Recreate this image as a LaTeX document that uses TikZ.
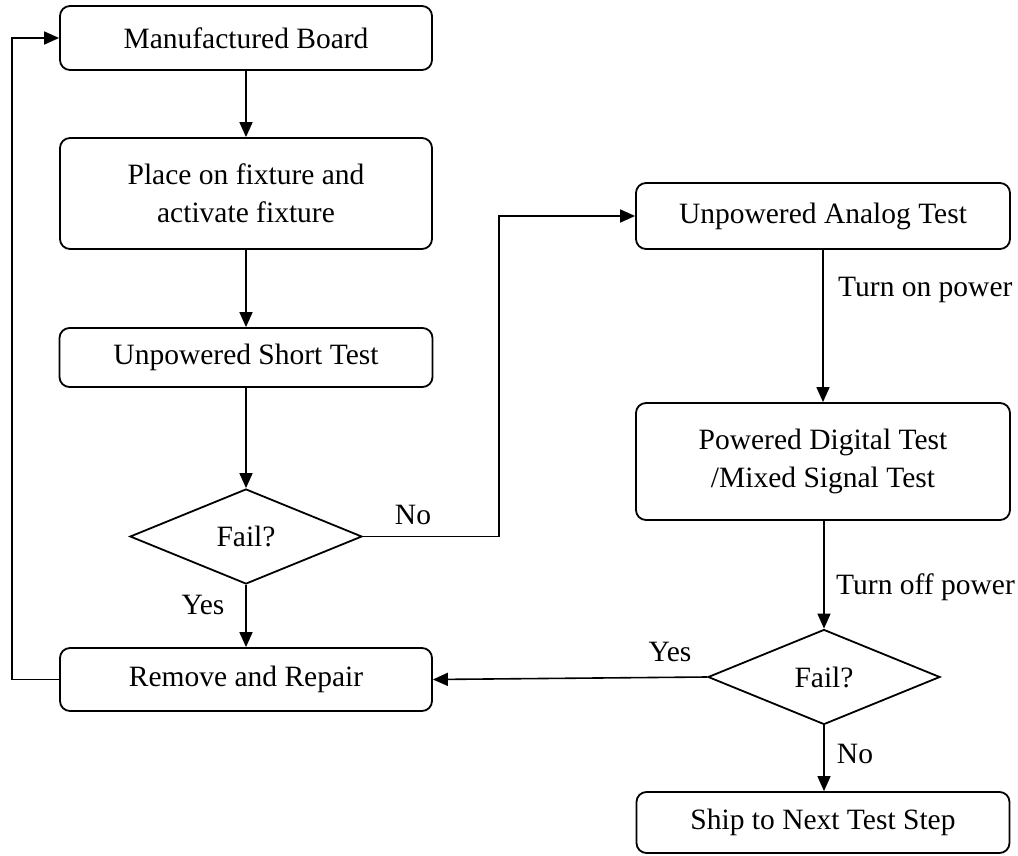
\documentclass[tikz,border=0pt]{standalone}
\usepackage{fontspec}
\setmainfont{Liberation Serif}
\usetikzlibrary{shapes.geometric,arrows.meta}
\begin{document}
\begin{tikzpicture}[x=1pt,y=-1pt,
  every node/.style={font=\fontsize{29.5}{38}\selectfont},
  box/.style={draw,line width=1.8pt,rounded corners=10pt,align=center,inner sep=0pt},
  dec/.style={draw,line width=1.8pt,diamond,inner sep=0pt,minimum width=232pt,minimum height=95pt},
  arr/.style={line width=1.6pt,-{Triangle[length=15pt,width=13pt]}},
  lbl/.style={inner sep=0pt}]
\useasboundingbox (0,0) rectangle (1018,856);
% left column
\node[box,minimum width=372pt,minimum height=64pt] (mb) at (246,38) {Manufactured Board};
\node[box,minimum width=372pt,minimum height=111pt] (pl) at (246,193.5) {Place on fixture and\\activate fixture};
\node[box,minimum width=373pt,minimum height=59pt] (ust) at (246,357.5) {Unpowered Short Test};
\node[dec] (d1) at (246,536.5) {Fail?};
\node[box,minimum width=372pt,minimum height=63pt] (rr) at (246,679.5) {Remove and Repair};
% right column
\node[box,minimum width=374pt,minimum height=66pt] (at) at (823,216) {Unpowered Analog Test};
\node[box,minimum width=374pt,minimum height=117pt] (pd) at (823,461.5) {Powered Digital Test\\/Mixed Signal Test};
\node[dec] (d2) at (824,677) {Fail?};
\node[box,minimum width=373pt,minimum height=61pt] (sh) at (823,822.5) {Ship to Next Test Step};
% helper coordinates
\coordinate (j) at (499,536.5);
\coordinate (lx) at (12,679.5);
% connectors
\draw[arr] (mb.south) -- (pl.north);
\draw[arr] (pl.south) -- (ust.north);
\draw[arr] (ust.south) -- (d1.north);
\draw[arr] (d1.south) -- (rr.north);
\draw[arr] (d1.east) -- (j) |- (at.west);
\draw[arr] (rr.west) -- (lx) |- (mb.west);
\draw[arr] (at.south) -- (pd.north);
\draw[arr] (pd.south -| d2.north) -- (d2.north);
\draw[arr] (d2.west) -- (rr.east);
\draw[arr] (d2.south) -- (d2.south |- sh.north);
% labels
\node[lbl] (lno1) at (413,515) {No};
\node[lbl] (lyes1) at (203,605) {Yes};
\node[lbl,anchor=west] (lon) at (838,290) {Turn on power};
\node[lbl,anchor=west] (loff) at (836,587) {Turn off power};
\node[lbl] (lyes2) at (670,652) {Yes};
\node[lbl] (lno2) at (855,754) {No};
\end{tikzpicture}
\end{document}
